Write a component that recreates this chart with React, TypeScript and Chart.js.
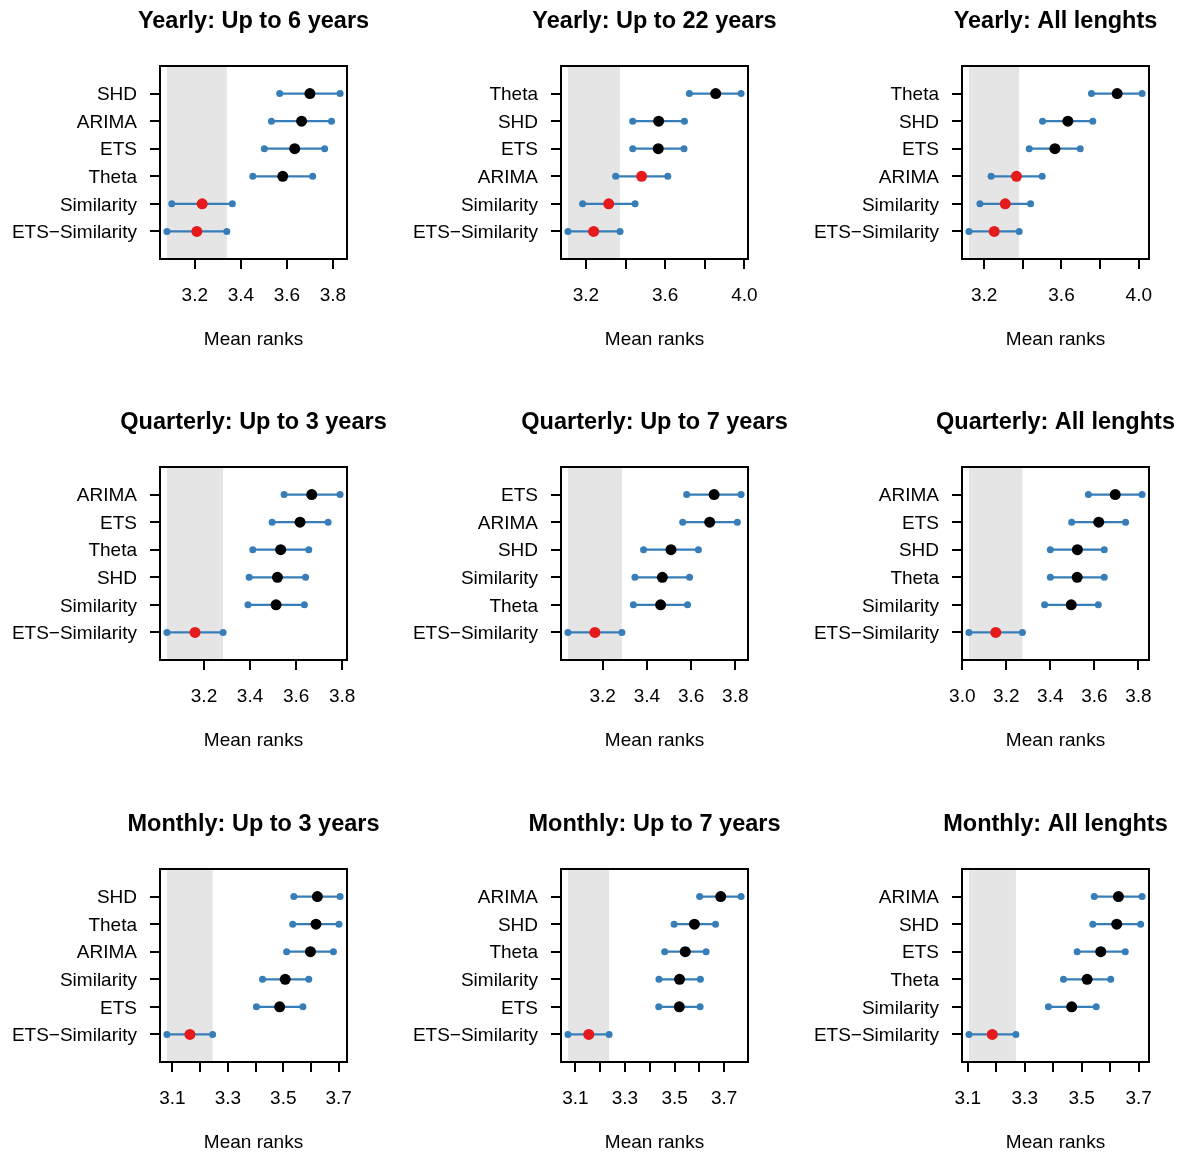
import React, { useEffect, useRef } from 'react';
import { Chart, registerables } from 'chart.js';

Chart.register(...registerables);

const BLUE = '#377EB8';
const RED = '#E41A1C';
const BAND = '#E5E5E5';
const FONT = '"Liberation Sans", Arial, Helvetica, sans-serif';
const ES = 'ETS\u2212Similarity';

// ---------- Data ----------
const y6Title = 'Yearly: Up to 6 years';
const y6Methods = ['SHD', 'ARIMA', 'ETS', 'Theta', 'Similarity', ES];
const y6Lo = [3.569, 3.533, 3.502, 3.452, 3.100, 3.079];
const y6Mean = [3.700, 3.664, 3.634, 3.582, 3.232, 3.209];
const y6Hi = [3.831, 3.794, 3.764, 3.712, 3.363, 3.339];
const y6Ticks = [3.2, 3.4, 3.6, 3.8];
const y6TickLabels = ['3.2', '3.4', '3.6', '3.8'];

const y22Title = 'Yearly: Up to 22 years';
const y22Methods = ['Theta', 'SHD', 'ETS', 'ARIMA', 'Similarity', ES];
const y22Lo = [3.722, 3.436, 3.436, 3.350, 3.183, 3.109];
const y22Mean = [3.855, 3.567, 3.565, 3.481, 3.315, 3.239];
const y22Hi = [3.983, 3.697, 3.695, 3.613, 3.448, 3.372];
const y22Ticks = [3.2, 3.4, 3.6, 3.8, 4.0];
const y22TickLabels = ['3.2', '', '3.6', '', '4.0'];

const yAllTitle = 'Yearly: All lenghts';
const yAllMethods = ['Theta', 'SHD', 'ETS', 'ARIMA', 'Similarity', ES];
const yAllLo = [3.755, 3.502, 3.433, 3.236, 3.178, 3.121];
const yAllMean = [3.888, 3.633, 3.566, 3.367, 3.309, 3.252];
const yAllHi = [4.017, 3.762, 3.697, 3.500, 3.440, 3.381];
const yAllTicks = [3.2, 3.4, 3.6, 3.8, 4.0];
const yAllTickLabels = ['3.2', '', '3.6', '', '4.0'];

const q3Title = 'Quarterly: Up to 3 years';
const q3Methods = ['ARIMA', 'ETS', 'Theta', 'SHD', 'Similarity', ES];
const q3Lo = [3.548, 3.496, 3.412, 3.396, 3.391, 3.039];
const q3Mean = [3.668, 3.617, 3.533, 3.519, 3.513, 3.161];
const q3Hi = [3.791, 3.739, 3.655, 3.641, 3.636, 3.283];
const q3Ticks = [3.2, 3.4, 3.6, 3.8];
const q3TickLabels = ['3.2', '3.4', '3.6', '3.8'];

const q7Title = 'Quarterly: Up to 7 years';
const q7Methods = ['ETS', 'ARIMA', 'SHD', 'Similarity', 'Theta', ES];
const q7Lo = [3.580, 3.562, 3.385, 3.346, 3.339, 3.043];
const q7Mean = [3.704, 3.684, 3.509, 3.470, 3.462, 3.165];
const q7Hi = [3.826, 3.809, 3.633, 3.593, 3.584, 3.287];
const q7Ticks = [3.2, 3.4, 3.6, 3.8];
const q7TickLabels = ['3.2', '3.4', '3.6', '3.8'];

const qAllTitle = 'Quarterly: All lenghts';
const qAllMethods = ['ARIMA', 'ETS', 'SHD', 'Theta', 'Similarity', ES];
const qAllLo = [3.573, 3.497, 3.400, 3.400, 3.374, 3.030];
const qAllMean = [3.695, 3.620, 3.523, 3.522, 3.495, 3.152];
const qAllHi = [3.817, 3.742, 3.645, 3.645, 3.618, 3.273];
const qAllTicks = [3.0, 3.2, 3.4, 3.6, 3.8];
const qAllTickLabels = ['3.0', '3.2', '3.4', '3.6', '3.8'];

const m3Title = 'Monthly: Up to 3 years';
const m3Methods = ['SHD', 'Theta', 'ARIMA', 'Similarity', 'ETS', ES];
const m3Lo = [3.538, 3.534, 3.512, 3.425, 3.403, 3.080];
const m3Mean = [3.623, 3.618, 3.598, 3.507, 3.487, 3.163];
const m3Hi = [3.705, 3.701, 3.681, 3.592, 3.571, 3.245];
const m3Ticks = [3.1, 3.2, 3.3, 3.4, 3.5, 3.6, 3.7];
const m3TickLabels = ['3.1', '', '3.3', '', '3.5', '', '3.7'];

const m7Title = 'Monthly: Up to 7 years';
const m7Methods = ['ARIMA', 'SHD', 'Theta', 'Similarity', 'ETS', ES];
const m7Lo = [3.601, 3.498, 3.460, 3.437, 3.436, 3.070];
const m7Mean = [3.686, 3.580, 3.543, 3.520, 3.519, 3.154];
const m7Hi = [3.768, 3.665, 3.627, 3.604, 3.603, 3.236];
const m7Ticks = [3.1, 3.2, 3.3, 3.4, 3.5, 3.6, 3.7];
const m7TickLabels = ['3.1', '', '3.3', '', '3.5', '', '3.7'];

const mAllTitle = 'Monthly: All lenghts';
const mAllMethods = ['ARIMA', 'SHD', 'ETS', 'Theta', 'Similarity', ES];
const mAllLo = [3.544, 3.539, 3.484, 3.436, 3.383, 3.104];
const mAllMean = [3.629, 3.623, 3.567, 3.519, 3.465, 3.186];
const mAllHi = [3.712, 3.707, 3.653, 3.602, 3.551, 3.269];
const mAllTicks = [3.1, 3.2, 3.3, 3.4, 3.5, 3.6, 3.7];
const mAllTickLabels = ['3.1', '', '3.3', '', '3.5', '', '3.7'];

type PanelSpec = {
  title: string;
  methods: string[];
  lo: number[];
  mean: number[];
  hi: number[];
  ticks: number[];
  tickLabels: string[];
};

const panels: PanelSpec[] = [
  { title: y6Title, methods: y6Methods, lo: y6Lo, mean: y6Mean, hi: y6Hi, ticks: y6Ticks, tickLabels: y6TickLabels },
  { title: y22Title, methods: y22Methods, lo: y22Lo, mean: y22Mean, hi: y22Hi, ticks: y22Ticks, tickLabels: y22TickLabels },
  { title: yAllTitle, methods: yAllMethods, lo: yAllLo, mean: yAllMean, hi: yAllHi, ticks: yAllTicks, tickLabels: yAllTickLabels },
  { title: q3Title, methods: q3Methods, lo: q3Lo, mean: q3Mean, hi: q3Hi, ticks: q3Ticks, tickLabels: q3TickLabels },
  { title: q7Title, methods: q7Methods, lo: q7Lo, mean: q7Mean, hi: q7Hi, ticks: q7Ticks, tickLabels: q7TickLabels },
  { title: qAllTitle, methods: qAllMethods, lo: qAllLo, mean: qAllMean, hi: qAllHi, ticks: qAllTicks, tickLabels: qAllTickLabels },
  { title: m3Title, methods: m3Methods, lo: m3Lo, mean: m3Mean, hi: m3Hi, ticks: m3Ticks, tickLabels: m3TickLabels },
  { title: m7Title, methods: m7Methods, lo: m7Lo, mean: m7Mean, hi: m7Hi, ticks: m7Ticks, tickLabels: m7TickLabels },
  { title: mAllTitle, methods: mAllMethods, lo: mAllLo, mean: mAllMean, hi: mAllHi, ticks: mAllTicks, tickLabels: mAllTickLabels },
];

// ---------- Layout ----------
const COL_LEFT = [0, 401, 802];
const ROW_TOP = [0, 401, 803];
const CANVAS_W = 400;
const CANVAS_H = 350;
const BOX_LEFT = 160;
const BOX_TOP = 66;
const BOX_W = 187;
const BOX_H = 193;
const X_AXIS_H = 60;

const mcbPlugin = {
  id: 'mcb',
  beforeDatasetsDraw(chart: any, _args: any, opts: any) {
    const { ctx, chartArea: a } = chart;
    const x = chart.scales.x;
    const x1 = x.getPixelForValue(opts.bandLo);
    const x2 = x.getPixelForValue(opts.bandHi);
    ctx.save();
    ctx.fillStyle = BAND;
    ctx.fillRect(x1, a.top + 1, x2 - x1, a.bottom - a.top - 2);
    ctx.restore();
  },
  afterDraw(chart: any, _args: any, opts: any) {
    const { ctx, chartArea: a } = chart;
    ctx.save();
    ctx.strokeStyle = '#000';
    ctx.lineWidth = 2;
    ctx.strokeRect(a.left, a.top, a.right - a.left, a.bottom - a.top);
    const cx = (a.left + a.right) / 2;
    ctx.fillStyle = '#000';
    ctx.textAlign = 'center';
    ctx.textBaseline = 'middle';
    ctx.font = `bold 23.5px ${FONT}`;
    ctx.fillText(opts.title, cx, a.top - 44);
    ctx.font = `19px ${FONT}`;
    ctx.fillText('Mean ranks', cx, a.bottom + 80.5);
    ctx.restore();
  },
};

function Panel({ spec, left, top }: { spec: PanelSpec; left: number; top: number }) {
  const ref = useRef<HTMLCanvasElement | null>(null);
  useEffect(() => {
    if (!ref.current) return;
    const n = spec.methods.length;
    const minLo = Math.min(...spec.lo);
    const maxHi = Math.max(...spec.hi);
    const r = maxHi - minLo;
    const xmin = minLo - 0.04 * r;
    const xmax = maxHi + 0.04 * r;
    let best = 0;
    spec.mean.forEach((m, i) => { if (m < spec.mean[best]) best = i; });
    const bandLo = spec.lo[best];
    const bandHi = spec.hi[best];

    const centerDs: any = {
      type: 'scatter',
      data: spec.mean.map((m, i) => ({ x: m, y: n - i })),
      backgroundColor: spec.mean.map((_, i) => (spec.lo[i] <= bandHi ? RED : '#000')),
      pointRadius: 5.5,
      pointBorderWidth: 0,
      showLine: false,
    };
    const intervalDs: any[] = spec.methods.map((_, i) => ({
      type: 'scatter',
      data: [
        { x: spec.lo[i], y: n - i },
        { x: spec.hi[i], y: n - i },
      ],
      showLine: true,
      borderColor: BLUE,
      borderWidth: 2.2,
      backgroundColor: BLUE,
      pointBackgroundColor: BLUE,
      pointRadius: 3.5,
      pointBorderWidth: 0,
    }));

    const chart = new Chart(ref.current, {
      type: 'scatter',
      data: { datasets: [centerDs, ...intervalDs] },
      options: {
        animation: false,
        responsive: false,
        events: [],
        layout: {
          padding: {
            left: 0,
            top: BOX_TOP,
            right: CANVAS_W - BOX_LEFT - BOX_W,
            bottom: CANVAS_H - BOX_TOP - BOX_H - X_AXIS_H,
          },
        },
        plugins: {
          legend: { display: false },
          tooltip: { enabled: false },
          mcb: { bandLo, bandHi, title: spec.title },
        } as any,
        scales: {
          x: {
            type: 'linear',
            position: 'bottom',
            min: xmin,
            max: xmax,
            afterBuildTicks: (scale: any) => {
              scale.ticks = spec.ticks.map((v) => ({ value: v }));
            },
            afterFit: (scale: any) => {
              scale.height = X_AXIS_H;
            },
            ticks: {
              autoSkip: false,
              maxRotation: 0,
              padding: 15,
              color: '#000',
              font: { family: FONT, size: 19 },
              callback: (_v: any, idx: number) => spec.tickLabels[idx],
            },
            grid: {
              display: true,
              drawOnChartArea: false,
              drawTicks: true,
              tickLength: 10,
              color: '#000',
              lineWidth: 2,
            },
            border: { display: true, color: '#000', width: 2 },
          },
          y: {
            type: 'linear',
            position: 'left',
            min: 0,
            max: n + 1,
            afterBuildTicks: (scale: any) => {
              scale.ticks = spec.methods.map((_, i) => ({ value: n - i }));
            },
            afterFit: (scale: any) => {
              scale.width = BOX_LEFT;
            },
            ticks: {
              autoSkip: false,
              padding: 13,
              labelOffset: 1.5,
              color: '#000',
              font: { family: FONT, size: 19 },
              callback: (v: any) => spec.methods[n - Number(v)],
            },
            grid: {
              display: true,
              drawOnChartArea: false,
              drawTicks: true,
              tickLength: 10,
              color: '#000',
              lineWidth: 2,
            },
            border: { display: true, color: '#000', width: 2 },
          },
        },
      } as any,
      plugins: [mcbPlugin as any],
    });
    return () => chart.destroy();
  }, [spec]);

  return (
    <canvas
      ref={ref}
      width={CANVAS_W}
      height={CANVAS_H}
      style={{ position: 'absolute', left, top, width: CANVAS_W, height: CANVAS_H }}
    />
  );
}

export default function App() {
  return (
    <div
      style={{
        position: 'absolute',
        left: 0,
        top: 0,
        width: 1185,
        height: 1153,
        background: '#fff',
        overflow: 'hidden',
      }}
    >
      {panels.map((p, i) => (
        <Panel key={i} spec={p} left={COL_LEFT[i % 3]} top={ROW_TOP[Math.floor(i / 3)]} />
      ))}
    </div>
  );
}
